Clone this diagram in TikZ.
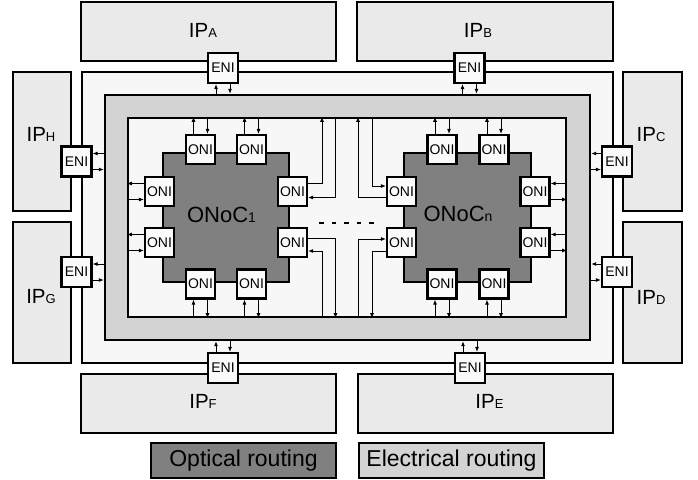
\documentclass[tikz,border=0pt]{standalone}
\usepackage{fontspec}
\setmainfont{Liberation Sans}
\usetikzlibrary{arrows.meta,calc}
\definecolor{ipfill}{HTML}{EAEAEA}
\definecolor{outerfill}{HTML}{F7F7F7}
\definecolor{bandfill}{HTML}{D3D3D3}
\definecolor{darkfill}{HTML}{808080}
\definecolor{boxfill}{HTML}{FAFAFA}
\newcommand\iplab[1]{{\fontsize{20.5}{20.5}\selectfont IP}{\fontsize{13}{13}\selectfont #1}}
\newcommand\noclab[1]{{\fontsize{22}{22}\selectfont ONoC}{\fontsize{14}{14}\selectfont #1}}
\begin{document}
\begin{tikzpicture}[x=1pt,y=-1pt,
  region/.style={draw, line width=2.4pt, inner sep=0pt},
  ipbox/.style={region, fill=ipfill},
  ifbox/.style={draw, line width=2.2pt, fill=boxfill, minimum size=29pt, inner sep=0pt, font=\fontsize{14}{14}\selectfont},
  sig/.style={line width=0.9pt, -{Latex[length=5pt,width=4pt]}},
  legend/.style={region, minimum width=185pt, minimum height=35pt, font=\fontsize{23}{23}\selectfont}
]
\useasboundingbox (0,0) rectangle (698,479);

% IP blocks
\node[ipbox, minimum width=255pt, minimum height=59pt] (ipA) at (208.5,31.5) {};
\node[ipbox, minimum width=256pt, minimum height=59pt] (ipB) at (485,31.5) {};
\node[ipbox, minimum width=58pt, minimum height=139pt] (ipH) at (42,141.5) {};
\node[ipbox, minimum width=59pt, minimum height=139pt] (ipC) at (652.5,141.5) {};
\node[ipbox, minimum width=58pt, minimum height=141pt] (ipG) at (42,292.5) {};
\node[ipbox, minimum width=59pt, minimum height=141pt] (ipD) at (652.5,292.5) {};
\node[ipbox, minimum width=255pt, minimum height=59pt] (ipF) at (208.5,403.5) {};
\node[ipbox, minimum width=255pt, minimum height=59pt] (ipE) at (485.5,403.5) {};

\node (ipAl) at (203,30) {\iplab{A}};
\node (ipBl) at (478,30) {\iplab{B}};
\node (ipHl) at (41,134) {\iplab{H}};
\node (ipCl) at (651,135) {\iplab{C}};
\node (ipGl) at (41,297) {\iplab{G}};
\node (ipDl) at (651,297) {\iplab{D}};
\node (ipFl) at (203,401) {\iplab{F}};
\node (ipEl) at (489.5,401) {\iplab{E}};

% routing regions
\node[region, fill=outerfill, minimum width=531pt, minimum height=291pt] (outer) at (347.5,217.5) {};
\node[region, fill=bandfill, minimum width=485pt, minimum height=245pt] (band) at (347.5,217.5) {};
\node[region, fill=outerfill, minimum width=438pt, minimum height=199pt] (inner) at (347,217.5) {};

% optical NoCs
\node[region, fill=darkfill, minimum width=126pt, minimum height=129pt] (noc1) at (226,217.5) {};
\node[region, fill=darkfill, minimum width=127pt, minimum height=129pt] (nocn) at (467.5,217.5) {};
\node (noc1l) at (221.5,215) {\noclab{1}};
\node (nocnl) at (458,214) {\noclab{n}};

% ONIs of ONoC1
\node[ifbox] (at1) at (200.5,149.5) {ONI};
\node[ifbox] (at2) at (251.5,149.5) {ONI};
\node[ifbox] (al1) at (159.5,191.5) {ONI};
\node[ifbox] (al2) at (159.5,242.5) {ONI};
\node[ifbox] (ar1) at (292.5,191.5) {ONI};
\node[ifbox] (ar2) at (292.5,242.5) {ONI};
\node[ifbox] (ab1) at (200.5,284) {ONI};
\node[ifbox] (ab2) at (251.5,284) {ONI};
% ONIs of ONoCn
\node[ifbox] (bt1) at (442,149.5) {ONI};
\node[ifbox] (bt2) at (494,149.5) {ONI};
\node[ifbox] (bl1) at (401.5,191.5) {ONI};
\node[ifbox] (bl2) at (401.5,242.5) {ONI};
\node[ifbox] (br1) at (535,191.5) {ONI};
\node[ifbox] (br2) at (535,242.5) {ONI};
\node[ifbox] (bb1) at (442,284) {ONI};
\node[ifbox] (bb2) at (494,284) {ONI};

% ENIs
\node[ifbox, minimum size=30pt] (enA) at (223,68) {ENI};
\node[ifbox, minimum size=30pt] (enB) at (469.5,68) {ENI};
\node[ifbox, minimum size=30pt] (enF) at (223,368) {ENI};
\node[ifbox, minimum size=30pt] (enE) at (470,368) {ENI};
\node[ifbox, minimum size=30pt] (enH) at (76.5,161.5) {ENI};
\node[ifbox, minimum size=30pt] (enG) at (76.5,272) {ENI};
\node[ifbox, minimum size=30pt] (enC) at (617,161.5) {ENI};
\node[ifbox, minimum size=30pt] (enD) at (617,272) {ENI};

% ENI links to electrical band
\foreach \e in {enA,enB}{
  \draw[sig] ([xshift=-7pt]\e.south |- band.north) -- ([xshift=-7pt]\e.south);
  \draw[sig] ([xshift=7pt]\e.south) -- ([xshift=7pt]\e.south |- band.north);
}
\foreach \e in {enF,enE}{
  \draw[sig] ([xshift=-7pt]\e.north) -- ([xshift=-7pt]\e.north |- band.south);
  \draw[sig] ([xshift=7pt]\e.north |- band.south) -- ([xshift=7pt]\e.north);
}
\foreach \e in {enH,enG}{
  \draw[sig] ([yshift=8pt]\e.east -| band.west) -- ([yshift=8pt]\e.east);
  \draw[sig] ([yshift=-8pt]\e.east) -- ([yshift=-8pt]\e.east -| band.west);
}
\foreach \e in {enC,enD}{
  \draw[sig] ([yshift=8pt]\e.west) -- ([yshift=8pt]\e.west -| band.east);
  \draw[sig] ([yshift=-8pt]\e.west -| band.east) -- ([yshift=-8pt]\e.west);
}

% ONI links to electrical region
\foreach \o in {at1,at2,bt1,bt2}{
  \draw[sig] ([xshift=-7pt]\o.north) -- ([xshift=-7pt]\o.north |- inner.north);
  \draw[sig] ([xshift=7pt]\o.north |- inner.north) -- ([xshift=7pt]\o.north);
}
\foreach \o in {ab1,ab2,bb1,bb2}{
  \draw[sig] ([xshift=-7pt]\o.south |- inner.south) -- ([xshift=-7pt]\o.south);
  \draw[sig] ([xshift=7pt]\o.south) -- ([xshift=7pt]\o.south |- inner.south);
}
\foreach \o in {al1,al2}{
  \draw[sig] ([yshift=8pt]\o.west) -- ([yshift=8pt]\o.west -| inner.west);
  \draw[sig] ([yshift=-8pt]\o.west -| inner.west) -- ([yshift=-8pt]\o.west);
}
\foreach \o in {br1,br2}{
  \draw[sig] ([yshift=8pt]\o.east -| inner.east) -- ([yshift=8pt]\o.east);
  \draw[sig] ([yshift=-8pt]\o.east) -- ([yshift=-8pt]\o.east -| inner.east);
}

% central routing between the ONoCs
\coordinate (v1) at (322,0);
\coordinate (v2) at (335.5,0);
\coordinate (v3) at (358,0);
\coordinate (v4) at (372,0);
\draw[sig] ([yshift=8.5pt]ar1.east) -| (v1 |- inner.north);
\draw[sig] (v2 |- inner.north) |- ([yshift=-6pt]ar1.east);
\draw[sig] ([yshift=4pt]ar2.east) -| (v2 |- inner.south);
\draw[sig] (v1 |- inner.south) |- ([yshift=-8.5pt]ar2.east);
\draw[sig] (v4 |- inner.north) |- ([yshift=5.5pt]bl1.west);
\draw[sig] ([yshift=-5.5pt]bl1.west) -| (v3 |- inner.north);
\draw[sig] (v3 |- inner.south) |- ([yshift=3.5pt]bl2.west);
\draw[sig] ([yshift=-8.5pt]bl2.west) -| (v4 |- inner.south);

\coordinate (d1) at (319,223);
\coordinate (d2) at (379,223);
\draw[line width=1.6pt, dash pattern=on 4.5pt off 8pt] (d1) -- (d2);

% legend
\node[legend, fill=darkfill] (lgo) at (243.5,460.5) {Optical routing};
\node[legend, fill=bandfill] (lge) at (451.5,460.5) {Electrical routing};
\end{tikzpicture}
\end{document}
